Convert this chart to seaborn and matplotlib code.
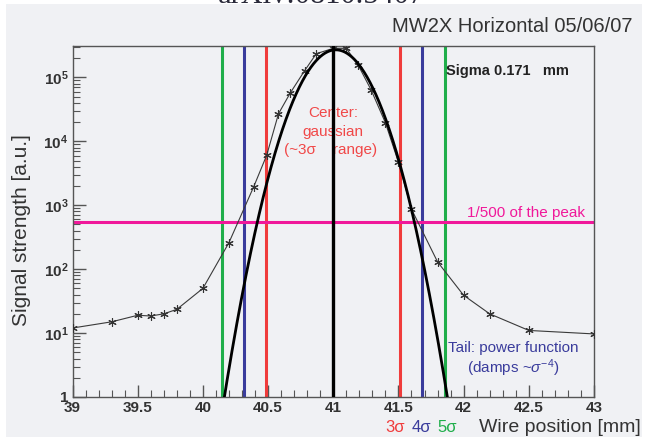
import numpy as np
import matplotlib
matplotlib.use("Agg")
import matplotlib.pyplot as plt
import seaborn as sns
from matplotlib.patches import Rectangle

# Measured wire scan (wire position in mm, signal in arbitrary units)
wire_pos = [39.0, 39.3, 39.5, 39.6, 39.7, 39.8, 40.0, 40.2, 40.39, 40.49,
            40.58, 40.67, 40.78, 40.87, 41.0, 41.1, 41.19, 41.29, 41.4, 41.5,
            41.6, 41.8, 42.0, 42.2, 42.5, 43.0]
signal = [12, 15, 19, 18.5, 20, 23.5, 50, 260, 1950, 6100,
          27000, 57000, 127000, 235000, 285000, 285000, 157000, 64000, 19500, 4700,
          870, 130, 39, 20, 11, 9.7]

# Gaussian core fit
sigma = 0.171
beam_center = 41.0
fit_center = 41.02
fit_peak = 2.7e5
peak_fraction = 1 / 500

sigma_multiples = [3, 4, 5]
sigma_colors = ["#f03c3c", "#3a3c9c", "#1fae4a"]

x_ticks = [39, 39.5, 40, 40.5, 41, 41.5, 42, 42.5, 43]
x_tick_labels = ["39", "39.5", "40", "40.5", "41", "41.5", "42", "42.5", "43"]
y_ticks = [1, 10, 1e2, 1e3, 1e4, 1e5]
y_tick_labels = ["1", r"$\mathbf{10^{1}}$", r"$\mathbf{10^{2}}$", r"$\mathbf{10^{3}}$",
                 r"$\mathbf{10^{4}}$", r"$\mathbf{10^{5}}$"]

BG = "#f0f1f4"
INK = "#333333"
PINK = "#f0189a"

sns.set_theme(style="ticks")
plt.rcParams["font.family"] = ["Liberation Sans", "DejaVu Sans"]
plt.rcParams["mathtext.fontset"] = "custom"
plt.rcParams["mathtext.rm"] = "Liberation Sans"
plt.rcParams["mathtext.bf"] = "Liberation Sans:bold"
plt.rcParams["mathtext.it"] = "Liberation Sans:italic"

W, H = 648, 443
fig = plt.figure(figsize=(W / 100, H / 100), dpi=100)
fig.patch.set_facecolor("white")
fig.add_artist(Rectangle((6 / W, 1 - 437 / H), (642 - 6) / W, (437 - 4) / H,
                         transform=fig.transFigure, facecolor=BG,
                         edgecolor="none", zorder=0))

ax = fig.add_axes([72.5 / W, 1 - 397 / H, (594 - 72.5) / W, (397 - 46) / H])
ax.set_facecolor(BG)


def px(xp, yp):
    return xp / W, 1 - yp / H


# n-sigma boundaries around the beam centre
for n, col in zip(sigma_multiples, sigma_colors):
    for side in (-1, 1):
        ax.axvline(beam_center + side * n * sigma, color=col, lw=2.2, zorder=2)

# 1/500 of the peak level
ax.axhline(fit_peak * peak_fraction, color=PINK, lw=2.2, zorder=2)

# measured profile
sns.lineplot(x=wire_pos, y=signal, ax=ax, color="#3a3a3a", lw=0.8,
             marker=(6, 2, 0), markersize=6, markeredgecolor="#333333",
             markeredgewidth=0.8, estimator=None, sort=False, zorder=4)

# gaussian core
xs = np.linspace(40.0, 42.0, 800)
gauss = fit_peak * np.exp(-(xs - fit_center) ** 2 / (2 * sigma ** 2))
sns.lineplot(x=xs, y=gauss, ax=ax, color="black", lw=2.0, zorder=5)

ax.axvline(beam_center, color="black", lw=2.4, zorder=5)

ax.set_yscale("log")
ax.set_xlim(39, 43)
ax.set_ylim(1, 3.1e5)
ax.set_xticks(x_ticks)
ax.set_xticklabels(x_tick_labels, fontweight="bold")
ax.set_xticks(np.arange(39, 43.001, 0.1), minor=True)
ax.set_yticks(y_ticks)
ax.set_yticklabels(y_tick_labels, fontweight="bold")
ax.set_xlabel("")
ax.set_ylabel("")
ax.tick_params(which="both", direction="in", top=False, right=False,
               colors="#555555", labelcolor=INK, labelsize=11)
ax.tick_params(which="major", length=9, width=1)
ax.tick_params(which="minor", length=5, width=0.8)
ax.tick_params(axis="x", pad=3)
ax.tick_params(axis="y", pad=3)
for sp in ax.spines.values():
    sp.set_color("#555555")
    sp.set_linewidth(1.0)
    sp.set_visible(True)

# annotations inside the frame
tf = fig.transFigure
ax.text(*px(333, 113), "Center:", transform=tf, color="#f04848", fontsize=11,
        ha="center", va="center", zorder=3)
ax.text(*px(333, 132), "gaussian", transform=tf, color="#f04848", fontsize=11,
        ha="center", va="center", zorder=3)
ax.text(*px(331, 150), "(~3σ    range)", transform=tf, color="#f04848",
        fontsize=11, ha="center", va="center", zorder=3)
ax.text(*px(585, 213), "1/500 of the peak", transform=tf, color=PINK,
        fontsize=11, ha="right", va="center", zorder=6)
ax.text(*px(513, 348), "Tail: power function", transform=tf, color="#3a3c9c",
        fontsize=11, ha="center", va="center", zorder=6)
ax.text(*px(513, 368), r"(damps ~$\sigma^{-4}$)", transform=tf, color="#3a3c9c",
        fontsize=11, ha="center", va="center", zorder=6)
ax.text(*px(446, 71), "Sigma 0.171   mm", transform=tf, color="#222222",
        fontsize=10.5, fontweight="bold", ha="left", va="center", zorder=6)

# titles and axis captions
fig.text(*px(632, 27), "MW2X Horizontal 05/06/07", color=INK, fontsize=14.5,
         ha="right", va="center")
fig.text(*px(321, -4), "arXiv:0810.5407", color="#2a2a3a", fontsize=22,
         family=["Liberation Serif", "DejaVu Serif"], ha="center", va="center")
fig.text(*px(22, 230), "Signal strength [a.u.]", color=INK, fontsize=15,
         rotation=90, ha="center", va="center")
fig.text(*px(641, 427), "Wire position [mm]", color=INK, fontsize=14,
         ha="right", va="center")
for label, xpos, col in zip(["3σ", "4σ", "5σ"], [395, 421, 447], sigma_colors):
    fig.text(*px(xpos, 427), label, color=col, fontsize=12, ha="center",
             va="center")

fig.savefig("out.png", dpi=100, facecolor=fig.get_facecolor())
